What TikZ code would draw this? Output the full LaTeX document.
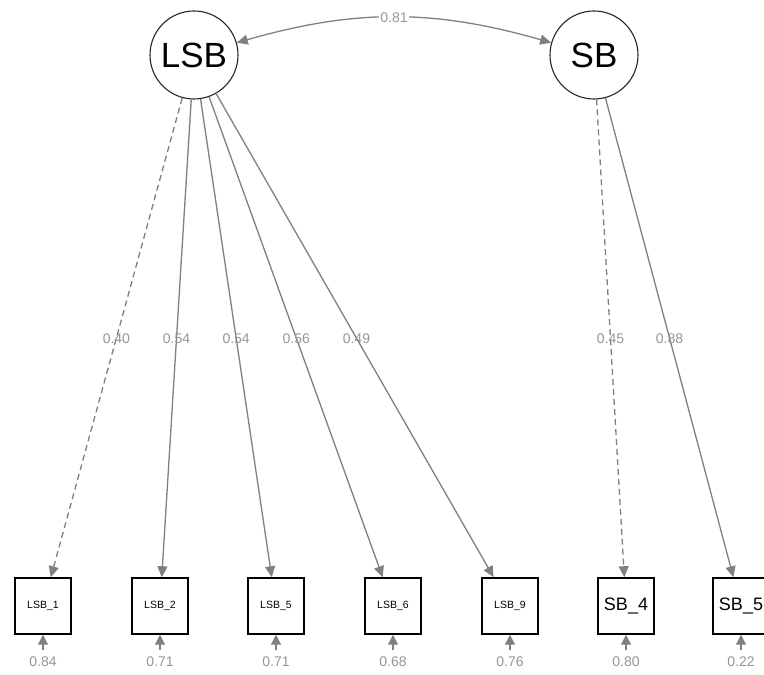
\documentclass[tikz,border=0pt]{standalone}
\usepackage{fontspec}
\setmainfont{Liberation Sans}
\usetikzlibrary{arrows.meta,calc}
\definecolor{edgegray}{RGB}{128,128,128}
\definecolor{labgray}{RGB}{150,150,150}
\begin{document}
\begin{tikzpicture}[x=1pt,y=1pt,
  latent/.style={circle,draw=black!85,line width=1.1pt,minimum size=88pt,inner sep=0pt,font=\fontsize{35}{35}\selectfont},
  manif/.style={rectangle,draw=black,line width=1.5pt,minimum size=56pt,inner sep=0pt},
  smalltxt/.style={font=\fontsize{10.5}{11}\selectfont},
  bigtxt/.style={font=\fontsize{18}{18}\selectfont},
  edge/.style={draw=edgegray,line width=1.3pt,-{Triangle[length=11pt,width=10pt]},color=edgegray},
  dashededge/.style={edge,dash pattern=on 6pt off 4pt},
  elab/.style={text=labgray,font=\fontsize{14}{14}\selectfont,inner sep=1pt},
  reslab/.style={text=labgray,font=\fontsize{14}{14}\selectfont,inner sep=0pt}
]
\useasboundingbox (0,0) rectangle (764,675);
\fill[white] (0,0) rectangle (764,675);

\node[latent] (LSB) at (194,620) {LSB};
\node[latent] (SB) at (594,620) {SB};

\node[manif,smalltxt] (L1) at (43,69) {LSB\_1};
\node[manif,smalltxt] (L2) at (160,69) {LSB\_2};
\node[manif,smalltxt] (L5) at (276,69) {LSB\_5};
\node[manif,smalltxt] (L6) at (393,69) {LSB\_6};
\node[manif,smalltxt] (L9) at (510,69) {LSB\_9};
\node[manif,bigtxt] (S4) at (626,69) {SB\_4};
\node[manif,bigtxt] (S5) at (741,69) {SB\_5};

% covariance
\draw[edgegray,line width=1.3pt,{Triangle[length=11pt,width=10pt]}-{Triangle[length=11pt,width=10pt]}]
  (LSB) to[bend left=16] node[elab,fill=white,inner sep=1pt] (cov) {0.81} (SB);

% loadings
\draw[dashededge] (LSB) -- (L1);
\draw[edge] (LSB) -- (L2);
\draw[edge] (LSB) -- (L5);
\draw[edge] (LSB) -- (L6);
\draw[edge] (LSB) -- (L9);
\draw[dashededge] (SB) -- (S4);
\draw[edge] (SB) -- (S5);

\node[elab] (e1) at ($(LSB)!0.514!(L1)$) {0.40};
\node[elab] (e2) at ($(LSB)!0.514!(L2)$) {0.54};
\node[elab] (e5) at ($(LSB)!0.514!(L5)$) {0.54};
\node[elab] (e6) at ($(LSB)!0.514!(L6)$) {0.56};
\node[elab] (e9) at ($(LSB)!0.514!(L9)$) {0.49};
\node[elab] (f4) at ($(SB)!0.514!(S4)$) {0.45};
\node[elab] (f5) at ($(SB)!0.514!(S5)$) {0.88};

% residuals
\foreach \n/\v in {L1/0.84,L2/0.71,L5/0.71,L6/0.68,L9/0.76,S4/0.80,S5/0.22}{
  \coordinate (r\n) at ($(\n.south)+(0,-15)$);
  \node[reslab] (t\n) at ($(\n.south)+(0,-27)$) {\v};
  \draw[edgegray,line width=1.3pt,-{Triangle[length=10pt,width=10pt]}] (r\n) -- (\n.south);
}
\end{tikzpicture}
\end{document}
